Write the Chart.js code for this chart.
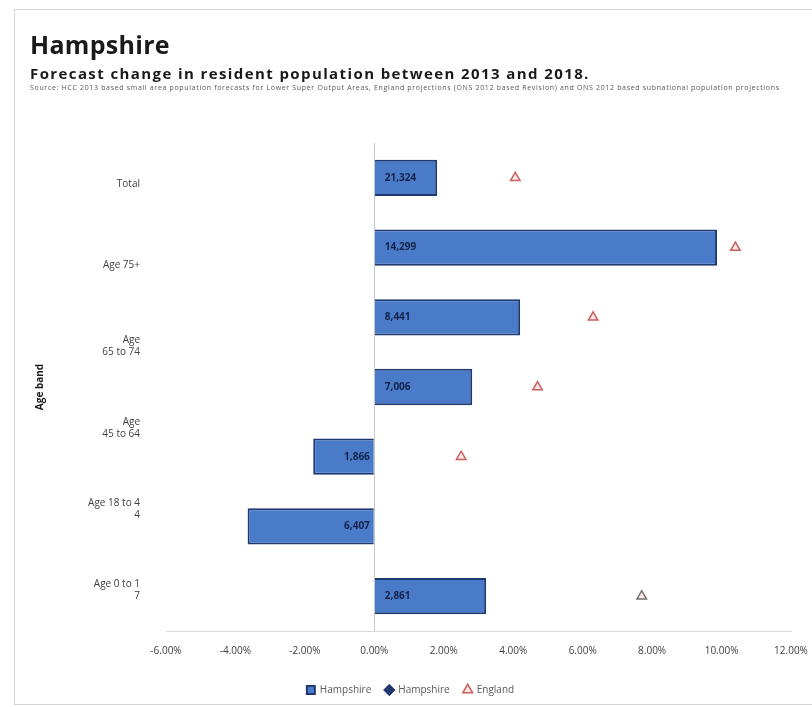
<!DOCTYPE html>
<html>
<head>
<meta charset="utf-8">
<script src="https://cdn.jsdelivr.net/npm/chart.js@4/dist/chart.umd.min.js"></script>
<style>
  html, body { margin: 0; padding: 0; background: #fff; overflow: hidden; }
  #frame { position: absolute; left: 14px; top: 9px; width: 900px; height: 694px; border: 1px solid #d4d4d4; pointer-events: none; }
  #wrap { position: absolute; left: 0; top: 0; width: 830px; height: 707px; }
  .t { position: absolute; left: 30px; font-family: "Open Sans", sans-serif; color: #1a1a1a; white-space: nowrap; }
  #title { top: 27px; font-size: 25px; font-weight: bold; letter-spacing: 0.3px; }
  #sub { top: 63px; font-size: 15px; font-weight: bold; letter-spacing: 1.4px; }
  #src { top: 83px; font-size: 7px; color: #555; letter-spacing: 0.67px; }
</style>
</head>
<body>
<div id="wrap"><canvas id="popChart" width="830" height="707"></canvas></div>
<div id="frame"></div>
<div class="t" id="title">Hampshire</div>
<div class="t" id="sub">Forecast change in  resident population between 2013 and 2018.</div>
<div class="t" id="src">Source: HCC 2013 based small area population forecasts for Lower Super Output Areas, England projections (ONS 2012 based Revision) and ONS 2012 based subnational population projections</div>
<script>
// categories (one per bar, top to bottom)
const bands = ['Total', 'Age 75+', 'Age 65 to 74', 'Age 45 to 64', 'Age 25 to 44', 'Age 18 to 24', 'Age 0 to 17'];
// tick labels shown on the left axis
const bandLabels = ['Total', 'Age 75+', ['Age', '65 to 74'], ['Age', '45 to 64'], ['Age 18 to 4', '4'], ['Age 0 to 1', '7']];
// % change, Hampshire
const hampshirePct = [1.81, 9.87, 4.2, 2.82, -1.76, -3.65, 3.22];
// people change, Hampshire (labels in bars)
const hampshireCount = ['21,324', '14,299', '8,441', '7,006', '-1,866', '-6,407', '2,861'];
// % change, England
const englandPct = [4.06, 10.4, 6.3, 4.7, 2.5, null, 7.7];
const xTicks = [-6, -4, -2, 0, 2, 4, 6, 8, 10, 12];

const countLabels = {
  id: 'countLabels',
  afterDatasetsDraw(chart) {
    const ctx = chart.ctx;
    const meta = chart.getDatasetMeta(0);
    ctx.save();
    ctx.font = 'bold 10px "Open Sans", sans-serif';
    ctx.fillStyle = '#13244a';
    ctx.textBaseline = 'middle';
    meta.data.forEach((bar, i) => {
      if (hampshirePct[i] >= 0) {
        ctx.textAlign = 'left';
        ctx.fillText(hampshireCount[i], bar.base + 10, bar.y);
      } else {
        ctx.textAlign = 'right';
        ctx.fillText(hampshireCount[i].replace('-', ''), bar.base - 4, bar.y);
      }
    });
    ctx.restore();
  }
};

const config = {
  type: 'bar',
  data: {
    labels: bands,
    datasets: [{
      label: 'Hampshire',
      data: hampshirePct,
      backgroundColor: '#4a7bc8',
      borderColor: '#1f3a73',
      borderWidth: 2,
      categoryPercentage: 1,
      barPercentage: 0.52,
      pointStyle: 'rect'
    }, {
      type: 'line',
      label: 'Hampshire',
      data: [],
      showLine: false,
      pointStyle: 'rectRot',
      backgroundColor: '#1f3a73',
      borderColor: '#1f3a73',
      borderWidth: 1
    }, {
      type: 'line',
      label: 'England',
      data: englandPct,
      indexAxis: 'y',
      showLine: false,
      pointStyle: 'triangle',
      pointRadius: 5.5,
      pointBorderWidth: 1.5,
      pointBorderColor: ['#c86060', '#c86060', '#c86060', '#c86060', '#c86060', '#c86060', '#707070'],
      pointBackgroundColor: '#fbe6e6',
      borderColor: '#c86060',
      backgroundColor: '#fbe6e6'
    }]
  },
  options: {
    indexAxis: 'y',
    responsive: false,
    animation: false,
    layout: { padding: { left: 30, top: 143, right: 39, bottom: 2 } },
    plugins: {
      legend: {
        position: 'bottom',
        labels: {
          usePointStyle: true,
          boxHeight: 8,
          boxWidth: 8,
          padding: 14,
          color: '#595959',
          font: { family: '"Open Sans", sans-serif', size: 10 },
          sort: (a, b) => a.datasetIndex - b.datasetIndex
        }
      },
      tooltip: { enabled: false }
    },
    scales: {
      x: {
        type: 'linear',
        min: -6,
        max: 12,
        afterBuildTicks: s => { s.ticks = xTicks.map(v => ({ value: v })); },
        ticks: {
          color: '#404040',
          font: { family: '"Open Sans", sans-serif', size: 10 },
          maxRotation: 0,
          padding: 14,
          callback: v => v.toFixed(2) + '%'
        },
        grid: {
          drawTicks: false,
          color: c => (c.tick && c.tick.value === 0 ? '#c8c8c8' : 'rgba(0,0,0,0)'),
          lineWidth: 1
        },
        border: { display: true, color: '#d9d9d9' }
      },
      y: {
        type: 'category',
        display: false,
        grid: { display: false }
      },
      yLab: {
        type: 'category',
        position: 'left',
        labels: bandLabels,
        offset: true,
        grid: { display: false },
        border: { display: false },
        ticks: {
          color: '#404040',
          font: { family: '"Open Sans", sans-serif', size: 10 },
          padding: 18
        },
        title: {
          display: true,
          text: 'Age band',
          color: '#1a1a1a',
          font: { family: '"Open Sans", sans-serif', size: 10, weight: 'bold' }
        },
        afterFit: s => { s.width = 136; }
      }
    }
  },
  plugins: [countLabels]
};

const popChart = new Chart(document.getElementById('popChart'), config);
</script>
</body>
</html>
